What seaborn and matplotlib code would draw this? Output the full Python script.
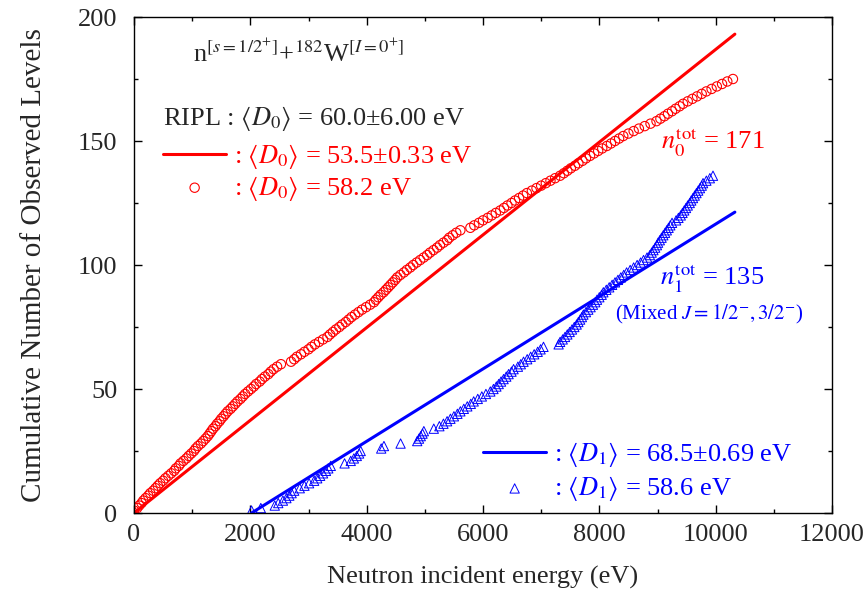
#!/usr/bin/env python3
import matplotlib

matplotlib.use("Agg")
import matplotlib.pyplot as plt
import numpy as np
import pandas as pd
import seaborn as sns

e_red = [
    0, 55, 90, 130, 160, 200, 245, 280, 330, 370, 410, 450, 500, 540, 590, 640,
    690, 720, 770, 800, 850, 900, 940, 985, 1030, 1060, 1100, 1150, 1190, 1230, 1269,
    1300, 1330, 1360, 1400, 1430, 1470, 1500, 1540, 1575, 1611,
    1660, 1700, 1740, 1780, 1830, 1870, 1910, 1960, 2011,
    2060, 2100, 2160, 2200, 2250, 2310, 2350, 2400, 2460, 2526,
    2700, 2754,
    2800, 2870, 2930, 3000, 3050, 3110, 3180, 3250, 3326,
    3370, 3420, 3470, 3530, 3580, 3640, 3690, 3740, 3800, 3860, 3920, 3990, 4060, 4126,
    4160, 4200, 4240, 4290, 4330, 4370, 4410, 4450, 4490, 4526,
    4580, 4640, 4690, 4750, 4800, 4860, 4920, 4980, 5040,
    5090, 5150, 5210, 5260, 5320, 5383,
    5420, 5480, 5540, 5611,
    5783,
    5850, 5930, 6000, 6080, 6150, 6220, 6297,
    6360, 6420, 6490, 6550, 6620, 6690, 6754,
    6840, 6920, 7000, 7080, 7160, 7240, 7326,
    7390, 7450, 7510, 7580, 7640, 7710, 7770, 7840,
    7910, 7980, 8050, 8130, 8200, 8270, 8340, 8411,
    8500, 8590, 8680, 8780, 8880, 8983,
    9050, 9120, 9180, 9250, 9310, 9380, 9440,
    9520, 9600, 9680, 9760, 9840,
    9930, 10020, 10110, 10200, 10297,
]
e_blue = [
    2020, 2180, 2420, 2480,
    2560, 2620, 2670, 2710, 2754,
    2850, 2930, 3010, 3097,
    3150, 3200, 3250, 3300, 3340, 3383,
    3620, 3726,
    3780, 3830, 3870, 3897,
    4250, 4297, 4583, 4869,
    4900, 4930, 4960, 4983,
    5154, 5250, 5320, 5383,
    5440, 5500, 5560, 5611,
    5670, 5730, 5790, 5840,
    5910, 5980, 6050, 6126,
    6180, 6230, 6270, 6310, 6354,
    6400, 6440, 6490, 6526,
    6600, 6650, 6697,
    6760, 6820, 6880, 6940, 6990, 7040,
    7300, 7326,
    7370, 7410, 7450, 7490, 7530, 7570, 7610, 7640, 7670, 7700, 7726,
    7770, 7810, 7850, 7890, 7930, 7960, 8000, 8040, 8069,
    8120, 8170, 8220, 8270, 8320, 8370, 8420, 8469,
    8530, 8590, 8650, 8710, 8760, 8820, 8869,
    8900, 8930, 8960, 8990, 9010, 9040,
    9070, 9100, 9130, 9160, 9190, 9220, 9250,
    9320, 9360, 9400, 9430, 9460, 9490, 9520, 9554,
    9580, 9610, 9640, 9670, 9700, 9730, 9760, 9783,
    9840, 9900, 9954,
]
# fitted mean spacings (eV) and energy range of the fits
d0_fit, d1_fit = 53.5, 68.5
fit_e_end = 10330

df_red = pd.DataFrame({"E": e_red, "N": np.arange(1, len(e_red) + 1)})
df_blue = pd.DataFrame({"E": e_blue, "N": np.arange(1, len(e_blue) + 1)})
fit_red = pd.DataFrame({"E": [0, fit_e_end]})
fit_red["N"] = fit_red["E"] / d0_fit
fit_blue = pd.DataFrame({"E": [e_blue[0], fit_e_end]})
fit_blue["N"] = (fit_blue["E"] - e_blue[0]) / d1_fit

sns.set_theme(style="ticks")
plt.rcParams["font.family"] = ["Liberation Serif", "DejaVu Serif"]
plt.rcParams["mathtext.fontset"] = "stix"
plt.rcParams["xtick.direction"] = "in"
plt.rcParams["ytick.direction"] = "in"
plt.rcParams["xtick.top"] = True
plt.rcParams["ytick.right"] = True

fs = 19
fig = plt.figure(figsize=(8.68, 5.95), dpi=100)
ax = fig.add_axes([134 / 868, 1 - 513 / 595, 698 / 868, 496 / 595])

sns.lineplot(data=fit_red, x="E", y="N", color="red", lw=2.2, ax=ax,
             label=r": $\langle D_0\rangle$ = 53.5±0.33 eV")
sns.scatterplot(data=df_red, x="E", y="N", marker="o", s=45, facecolor="none",
                edgecolor="red", linewidth=0.8, ax=ax,
                label=r": $\langle D_0\rangle$ = 58.2 eV")
sns.lineplot(data=fit_blue, x="E", y="N", color="blue", lw=2.2, ax=ax,
             label=r": $\langle D_1\rangle$ = 68.5±0.69 eV")
sns.scatterplot(data=df_blue, x="E", y="N", marker="^", s=45, facecolor="none",
                edgecolor="blue", linewidth=0.7, ax=ax,
                label=r": $\langle D_1\rangle$ = 58.6 eV")

ax.set_xlim(0, 12000)
ax.set_ylim(0, 200)
ax.set_xticks(np.arange(0, 12001, 2000))
ax.set_xticks(np.arange(0, 12001, 1000), minor=True)
ax.set_yticks(np.arange(0, 201, 50))
ax.set_yticks(np.arange(0, 201, 25), minor=True)
ax.tick_params(which="major", length=6, width=1, labelsize=fs, color="black")
ax.tick_params(axis="y", which="major", pad=12)
ax.tick_params(axis="x", which="major", pad=8)
ax.tick_params(which="minor", length=3, width=1, color="black")
for sp in ax.spines.values():
    sp.set_color("black")
    sp.set_linewidth(1.0)
ax.set_xlabel("Neutron incident energy (eV)", fontsize=fs, labelpad=14)
ax.set_ylabel("Cumulative Number of Observed Levels", fontsize=21, labelpad=22)

handles, labels = ax.get_legend_handles_labels()
leg_red = ax.legend(handles[:2], labels[:2], loc="upper left",
                    bbox_to_anchor=(0.0415, 0.748), frameon=False, fontsize=fs,
                    handlelength=2.4, handletextpad=0.3, labelspacing=0.1,
                    borderpad=0, borderaxespad=0, labelcolor="red")
ax.add_artist(leg_red)
ax.legend(handles[2:], labels[2:], loc="upper left",
          bbox_to_anchor=(0.5, 0.147), frameon=False, fontsize=fs,
          handlelength=2.4, handletextpad=0.3, labelspacing=0.2,
          borderpad=0, borderaxespad=0, labelcolor="blue")

ax.text(0.0845, 0.907, r"n$^{[s=1/2^{+}]}$+$^{182}$W$^{[I=0^{+}]}$",
        transform=ax.transAxes, fontsize=fs, va="baseline")
ax.text(0.0415, 0.782, r"RIPL : $\langle D_0\rangle$ = 60.0±6.00 eV",
        transform=ax.transAxes, fontsize=fs, va="baseline")
ax.text(0.755, 0.734, r"$n_0^{\rm tot}$ = 171", transform=ax.transAxes,
        fontsize=fs, color="red", va="baseline")
ax.text(0.754, 0.46, r"$n_1^{\rm tot}$ = 135", transform=ax.transAxes,
        fontsize=fs, color="blue", va="baseline")
ax.text(0.689, 0.39, r"(Mixed $J = 1/2^{-}, 3/2^{-}$)", transform=ax.transAxes,
        fontsize=15, color="blue", va="baseline")

fig.savefig("out.png", dpi=100)
